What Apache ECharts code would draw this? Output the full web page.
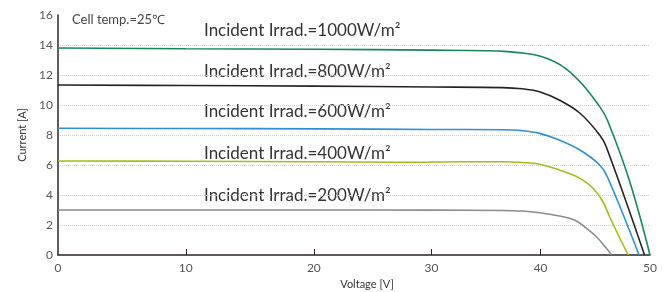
<!DOCTYPE html>
<html>
<head>
<meta charset="utf-8">
<script src="https://cdn.jsdelivr.net/npm/echarts@6/dist/echarts.min.js"></script>
<style>
  html, body { margin: 0; padding: 0; background: #fff; }
  #chart { width: 667px; height: 292px; }
</style>
</head>
<body>
<div id="chart"></div>
<script>
// voltage ticks and where they sit on the (slightly uneven) printed axis
const xTicks = [0, 10, 20, 30, 40, 50]
const xTickPos = [0, 10.79, 21.61, 31.55, 40.76, 50]

const irrad1000 = [[0, 13.8], [10, 13.75], [20, 13.72], [30, 13.66], [35, 13.62], [37, 13.56], [38.5, 13.45], [39.9, 13.27], [41.8, 12.67], [43.6, 11.55], [45.4, 9.89], [46.1, 9.0], [48.1, 5.0], [50, 0]]
const irrad800 = [[0, 11.33], [10, 11.3], [20, 11.26], [30, 11.2], [36.5, 11.16], [38.3, 11.08], [39.9, 10.89], [41.7, 10.33], [43.6, 9.45], [45.4, 8.0], [46.0, 7.22], [49.5, 0]]
const irrad600 = [[0, 8.45], [10, 8.43], [20, 8.41], [30, 8.37], [36.5, 8.35], [38.3, 8.29], [39.9, 8.11], [41.7, 7.67], [43.6, 7.0], [45.4, 6.0], [46.1, 5.22], [49.0, 0]]
const irrad400 = [[0, 6.27], [10, 6.25], [20, 6.22], [27.3, 6.18], [33.0, 6.22], [36.5, 6.22], [38.3, 6.17], [39.9, 6.05], [41.7, 5.67], [43.6, 5.11], [44.8, 4.45], [45.7, 3.55], [46.3, 2.55], [48.0, 0]]
const irrad200 = [[0, 3.0], [10, 3.0], [20, 3.0], [30, 2.99], [36.5, 2.97], [38.3, 2.93], [39.9, 2.82], [41.7, 2.6], [43.1, 2.33], [44.2, 1.78], [45.1, 1.22], [45.9, 0.55], [46.5, 0]]

const seriesNames = ['1000', '800', '600', '400', '200']
const seriesData = [irrad1000, irrad800, irrad600, irrad400, irrad200]
const colors = ['#17875a', '#2a2222', '#2f8fd3', '#a3bd1e', '#8c8c8c']
const labelY = [33, 74, 114, 156, 198]

// map a voltage onto the printed axis position
function warp(v) {
  for (let i = 1; i < xTicks.length; i++) {
    if (v <= xTicks[i]) {
      const t = (v - xTicks[i - 1]) / (xTicks[i] - xTicks[i - 1])
      return xTickPos[i - 1] + t * (xTickPos[i] - xTickPos[i - 1])
    }
  }
  return xTickPos[xTickPos.length - 1]
}

const axisColor = '#2e2525'
const textColor = '#555'
const font = 'Lato, "Noto Sans", sans-serif'

const chart = echarts.init(document.getElementById('chart'), null, { renderer: 'canvas' })
chart.setOption({
  animation: false,
  grid: { left: 58, right: 17, top: 15, bottom: 37, outerBoundsMode: 'none' },
  xAxis: {
    type: 'value',
    min: 0,
    max: 50,
    name: 'Voltage [V]',
    nameLocation: 'middle',
    nameGap: 23,
    nameTextStyle: { color: '#333', fontSize: 11, fontFamily: font, padding: [0, 0, 0, 26] },
    axisLine: { lineStyle: { color: axisColor, width: 1.5 } },
    axisTick: {
      show: true, inside: true, length: 6,
      customValues: xTickPos.slice(1, 5),
      lineStyle: { color: axisColor, width: 1 }
    },
    axisLabel: {
      color: textColor, fontSize: 12, fontFamily: font, margin: 7,
      customValues: xTickPos,
      formatter: v => String(xTicks[xTickPos.indexOf(v)])
    },
    splitLine: { show: false }
  },
  yAxis: {
    type: 'value',
    min: 0,
    max: 16,
    interval: 2,
    name: 'Current [A]',
    nameLocation: 'middle',
    nameGap: 30,
    nameTextStyle: { color: '#333', fontSize: 11, fontFamily: font },
    axisLine: { show: true, lineStyle: { color: axisColor, width: 1.5 } },
    axisTick: { show: false },
    axisLabel: { color: textColor, fontSize: 12, fontFamily: font, margin: 5 },
    splitLine: {
      show: true, showMinLine: false, showMaxLine: false,
      lineStyle: { color: '#cfcfcf', type: 'dotted', width: 1 }
    }
  },
  graphic: [{
    type: 'text', left: 72, top: 13,
    style: { text: 'Cell temp.=25℃', fill: '#444', font: '13px ' + font }
  }].concat(seriesNames.map((n, i) => ({
    type: 'text', left: 204, top: labelY[i] - 11,
    style: { text: 'Incident Irrad.=' + n + 'W/m²', fill: '#333', font: '17px ' + font }
  }))),
  series: seriesData.map((d, i) => ({
    name: seriesNames[i],
    type: 'line',
    data: d.map(p => [warp(p[0]), p[1]]),
    smooth: 0.4,
    showSymbol: false,
    lineStyle: { color: colors[i], width: 1.6 }
  }))
})
</script>
</body>
</html>
